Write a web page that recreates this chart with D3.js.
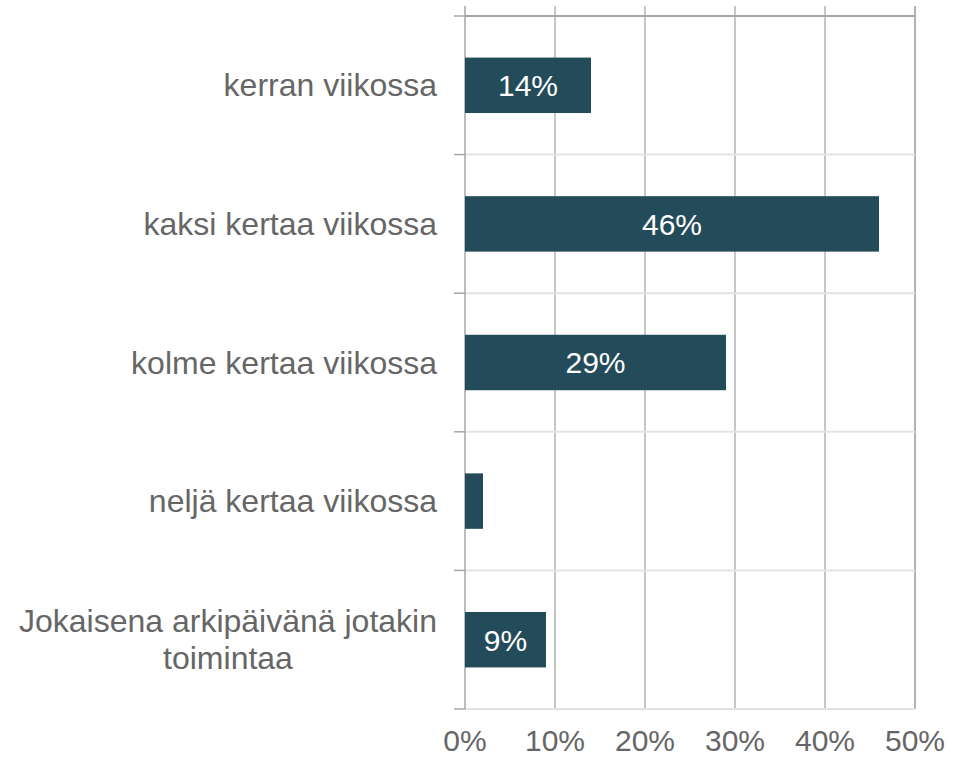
<!DOCTYPE html>
<html>
<head>
<meta charset="utf-8">
<script src="https://cdn.jsdelivr.net/npm/d3@7"></script>
<style>
  body { margin: 0; background: #fff; }
  text { font-family: "Liberation Sans", Arial, sans-serif; }
</style>
</head>
<body>
<div id="container"></div>
<script>
/* CONSTANTS AND GLOBALS */
const width = 956;
const height = 759;
const margin = { top: 16, right: 41, bottom: 50, left: 465 };

/* DATA */
const categories = [
  "kerran viikossa",
  "kaksi kertaa viikossa",
  "kolme kertaa viikossa",
  "neljä kertaa viikossa",
  "Jokaisena arkipäivänä jotakin toimintaa"
];
const labelLines = [
  ["kerran viikossa"],
  ["kaksi kertaa viikossa"],
  ["kolme kertaa viikossa"],
  ["neljä kertaa viikossa"],
  ["Jokaisena arkipäivänä jotakin", "toimintaa"]
];
const values = [0.14, 0.46, 0.29, 0.02, 0.09];
const xTicks = [0, 0.1, 0.2, 0.3, 0.4, 0.5];

const barColor = "#234b5a";
const textColor = "#666666";

/* SCALES */
const xScale = d3.scaleLinear()
  .domain([0, 0.5])
  .range([margin.left, width - margin.right]);

const yScale = d3.scaleBand()
  .domain(categories)
  .range([margin.top, height - margin.bottom])
  .paddingInner(0.6)
  .paddingOuter(0.3);

// band boundaries
const y0 = margin.top;
const y1 = height - margin.bottom;
const bounds = d3.range(categories.length + 1).map(i => y0 + i * (y1 - y0) / categories.length);

/* SVG */
const svg = d3.select("#container")
  .append("svg")
  .attr("width", width)
  .attr("height", height);

// vertical gridlines
svg.append("g")
  .selectAll("line")
  .data(xTicks.slice(1))
  .join("line")
  .attr("x1", d => xScale(d))
  .attr("x2", d => xScale(d))
  .attr("y1", 6)
  .attr("y2", y1)
  .attr("stroke", (d, i) => i === xTicks.length - 2 ? "#999" : "#b3b3b3")
  .attr("stroke-width", 1.5);

// horizontal category separators
svg.append("g")
  .selectAll("line")
  .data(bounds)
  .join("line")
  .attr("x1", xScale(0))
  .attr("x2", xScale(0.5))
  .attr("y1", d => d)
  .attr("y2", d => d)
  .attr("stroke", (d, i) => i === 0 ? "#a6a6a6" : "#e3e3e3")
  .attr("stroke-width", 2);

// y axis line and ticks
svg.append("line")
  .attr("x1", xScale(0))
  .attr("x2", xScale(0))
  .attr("y1", 6)
  .attr("y2", y1)
  .attr("stroke", "#a6a6a6")
  .attr("stroke-width", 1.5);

svg.append("g")
  .selectAll("line")
  .data(bounds)
  .join("line")
  .attr("x1", xScale(0) - 11)
  .attr("x2", xScale(0))
  .attr("y1", d => d)
  .attr("y2", d => d)
  .attr("stroke", "#a6a6a6")
  .attr("stroke-width", 1.5);

// bars
svg.append("g")
  .selectAll("rect")
  .data(values)
  .join("rect")
  .attr("x", xScale(0))
  .attr("y", (d, i) => yScale(categories[i]))
  .attr("width", d => xScale(d) - xScale(0))
  .attr("height", yScale.bandwidth())
  .attr("fill", barColor);

// value labels (white; the 2% one sits on white and is barely visible)
svg.append("g")
  .selectAll("text")
  .data(values)
  .join("text")
  .attr("x", d => {
    const w = xScale(d) - xScale(0);
    return w < 50 ? xScale(d) + 22 : (xScale(0) + xScale(d)) / 2;
  })
  .attr("y", (d, i) => yScale(categories[i]) + yScale.bandwidth() / 2)
  .attr("dy", "0.36em")
  .attr("text-anchor", "middle")
  .attr("fill", "#fff")
  .style("font-size", "30px")
  .text(d => Math.round(d * 100) + "%");

// category labels
const catLabels = svg.append("g")
  .selectAll("text")
  .data(categories)
  .join("text")
  .attr("y", d => yScale(d) + yScale.bandwidth() / 2)
  .attr("fill", textColor)
  .style("font-size", "32px");

catLabels.each(function(d, i) {
  const t = d3.select(this);
  const lines = labelLines[i];
  const lh = 37;
  const offset = -(lines.length - 1) * lh / 2;
  lines.forEach((line, j) => {
    t.append("tspan")
      .attr("dy", j === 0 ? (offset + 11) + "px" : lh + "px")
      .text(line);
  });
  // right align the block, center lines within it
  const spans = t.selectAll("tspan").nodes();
  const maxW = d3.max(spans, s => s.getComputedTextLength());
  const right = xScale(0) - 28;
  t.attr("text-anchor", "middle");
  t.selectAll("tspan").attr("x", right - maxW / 2);
});

// x axis tick labels
svg.append("g")
  .selectAll("text")
  .data(xTicks)
  .join("text")
  .attr("x", d => xScale(d))
  .attr("y", 751)
  .attr("text-anchor", "middle")
  .attr("fill", textColor)
  .style("font-size", "30px")
  .text(d3.format(".0%"));
</script>
</body>
</html>
